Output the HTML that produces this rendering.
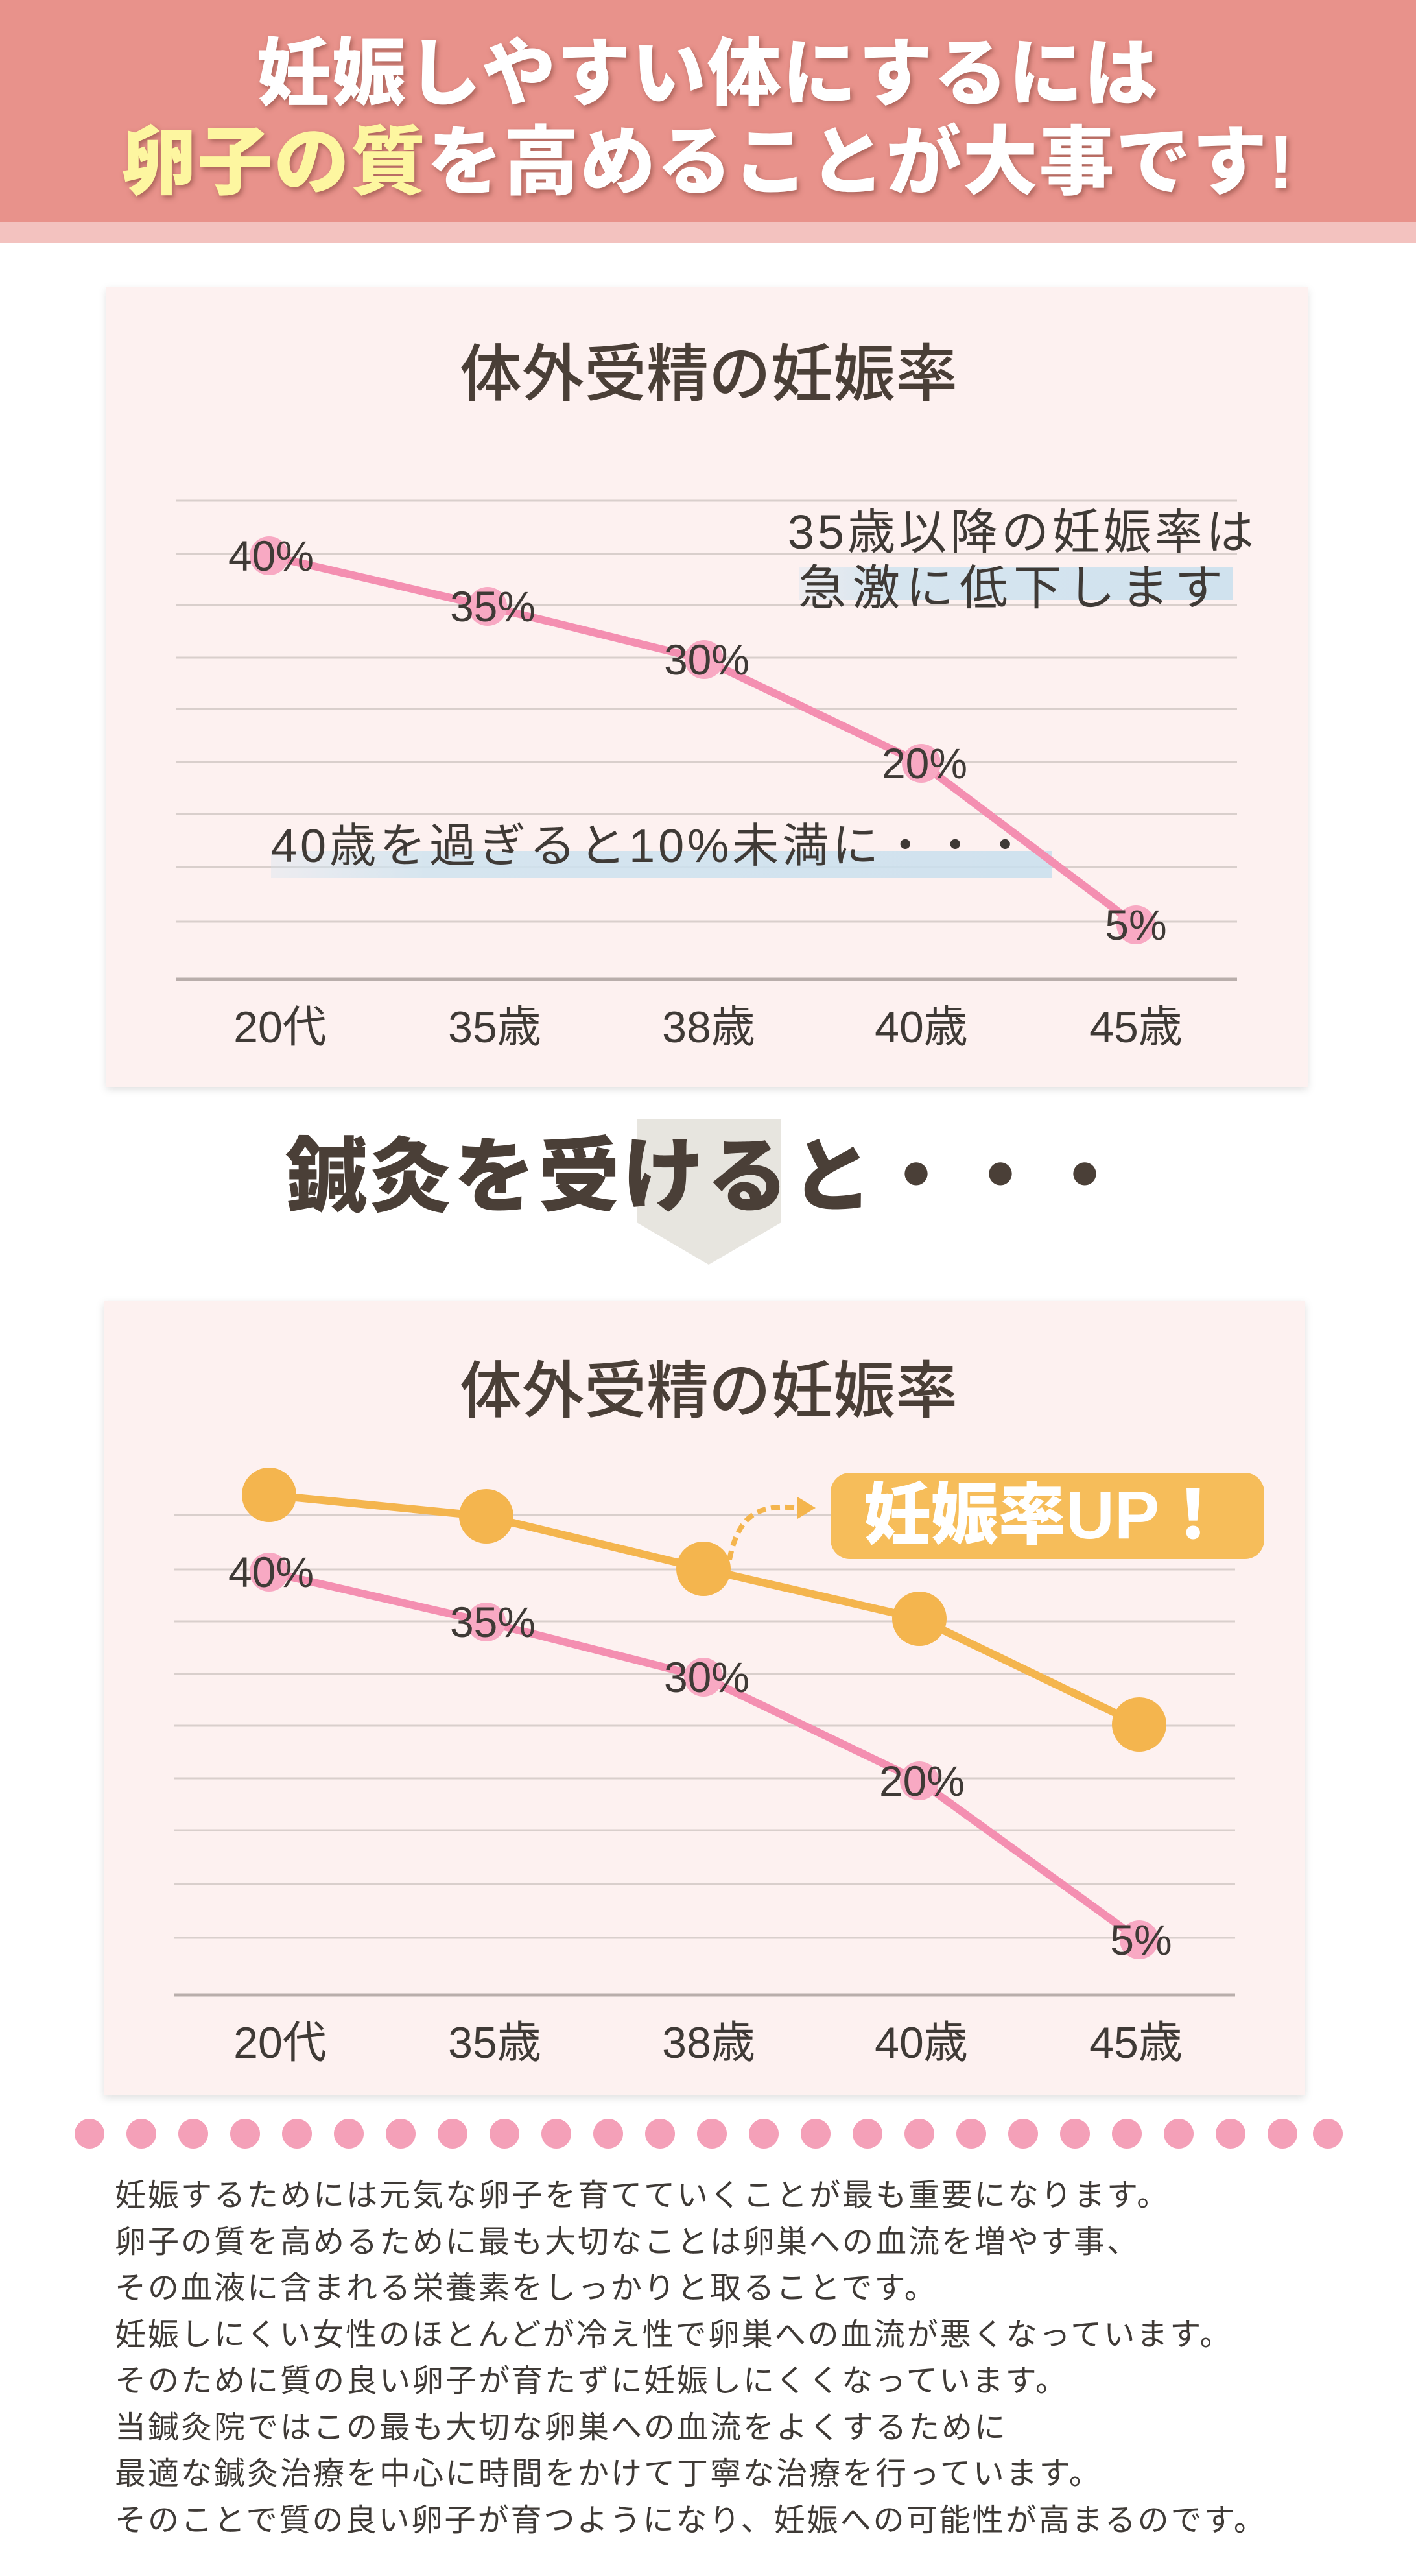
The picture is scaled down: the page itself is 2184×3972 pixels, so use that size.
<!DOCTYPE html>
<html><head><meta charset="utf-8"><style>
html,body{margin:0;padding:0;background:#fff;}
body{width:2184px;height:3972px;position:relative;overflow:hidden;font-family:"Liberation Sans","Noto Sans CJK JP",sans-serif;}
.hdr{position:absolute;left:0;top:0;width:2184px;height:342px;background:#e8928b;}
.hdr2{position:absolute;left:0;top:342px;width:2184px;height:32px;background:#f3c2bf;}
.t{position:absolute;left:0;width:2184px;text-align:center;font-weight:900;font-size:114px;color:#fff;letter-spacing:2px;text-shadow:3px 4px 8px rgba(120,60,50,.55);line-height:1;}
.y{color:#fdf6a0;}
.para{position:absolute;left:177px;top:3350px;font-size:48px;line-height:71.5px;color:#3f3a36;letter-spacing:3px;white-space:nowrap;}
</style></head><body>
<div class="hdr"></div><div class="hdr2"></div>
<div class="t" style="top:58px;">妊娠しやすい体にするには</div>
<div class="t" style="top:192px;font-size:116px;"><span class="y">卵子の質</span>を高めることが大事です!</div>
<svg width="2184" height="3972" style="position:absolute;left:0;top:0" xmlns="http://www.w3.org/2000/svg" font-family="Liberation Sans, Noto Sans CJK JP, sans-serif">
<defs><filter id="sh" x="-5%" y="-5%" width="110%" height="110%"><feDropShadow dx="0" dy="4" stdDeviation="6" flood-color="#000" flood-opacity="0.12"/></filter>
<linearGradient id="bl" x1="0" x2="1" y1="0" y2="0"><stop offset="0" stop-color="#cfe3ef" stop-opacity="0.4"/><stop offset="0.2" stop-color="#cfe3ef"/><stop offset="1" stop-color="#c8dfee"/></linearGradient></defs>
<!-- panel 1 -->
<rect x="164" y="443" width="1853" height="1233" fill="#fdf1f0" filter="url(#sh)"/>
<text x="1093" y="610" font-size="96" text-anchor="middle" fill="#4a3f37" font-weight="500">体外受精の妊娠率</text>
<g stroke="#d9cfcc" stroke-width="3">
<line x1="272" y1="772" x2="1908" y2="772"/><line x1="272" y1="854" x2="1908" y2="854"/><line x1="272" y1="933" x2="1908" y2="933"/><line x1="272" y1="1014" x2="1908" y2="1014"/><line x1="272" y1="1093" x2="1908" y2="1093"/><line x1="272" y1="1175" x2="1908" y2="1175"/><line x1="272" y1="1255" x2="1908" y2="1255"/><line x1="272" y1="1337" x2="1908" y2="1337"/><line x1="272" y1="1421" x2="1908" y2="1421"/>
</g>
<line x1="272" y1="1510" x2="1908" y2="1510" stroke="#b9aeab" stroke-width="5"/>
<rect x="1233" y="875" width="668" height="50" fill="url(#bl)" opacity="0.85"/>
<rect x="418" y="1312" width="1204" height="42" fill="url(#bl)" opacity="0.85"/>
<polyline points="415,857 752,935 1086,1017 1421,1177 1752,1426" fill="none" stroke="#f48fb1" stroke-width="12"/>
<g fill="#f8a9c3"><circle cx="415" cy="857" r="30"/><circle cx="752" cy="935" r="30"/><circle cx="1086" cy="1017" r="30"/><circle cx="1421" cy="1177" r="30"/><circle cx="1752" cy="1426" r="30"/></g>
<g font-size="66" fill="#3f3a36" text-anchor="middle">
<text x="418" y="880">40%</text><text x="760" y="958">35%</text><text x="1090" y="1040">30%</text><text x="1426" y="1200">20%</text><text x="1752" y="1449">5%</text>
</g>
<text x="1939" y="846" font-size="74" fill="#3f3a36" text-anchor="end" letter-spacing="5">35歳以降の妊娠率は</text>
<text x="1895" y="932" font-size="74" fill="#3f3a36" text-anchor="end" letter-spacing="9">急激に低下します</text>
<text x="418" y="1329" font-size="72" fill="#3f3a36" letter-spacing="5">40歳を過ぎると10%未満に・・・</text>
<g font-size="68" fill="#3f3a36" text-anchor="middle">
<text x="432" y="1607">20代</text><text x="763" y="1607">35歳</text><text x="1093" y="1607">38歳</text><text x="1421" y="1607">40歳</text><text x="1752" y="1607">45歳</text>
</g>
<!-- chevron -->
<polygon points="982,1725 1205,1725 1205,1885 1093,1950 982,1885" fill="#e7e5df"/>
<text x="1090" y="1858" font-size="126" font-weight="900" fill="#4a3f37" text-anchor="middle" letter-spacing="4">鍼灸を受けると・・・</text>
<!-- panel 2 -->
<rect x="160" y="2006" width="1853" height="1225" fill="#fdf1f0" filter="url(#sh)"/>
<text x="1093" y="2178" font-size="96" text-anchor="middle" fill="#4a3f37" font-weight="500">体外受精の妊娠率</text>
<g stroke="#d9cfcc" stroke-width="3">
<line x1="268" y1="2336" x2="1905" y2="2336"/><line x1="268" y1="2420" x2="1905" y2="2420"/><line x1="268" y1="2500" x2="1905" y2="2500"/><line x1="268" y1="2581" x2="1905" y2="2581"/><line x1="268" y1="2661" x2="1905" y2="2661"/><line x1="268" y1="2742" x2="1905" y2="2742"/><line x1="268" y1="2822" x2="1905" y2="2822"/><line x1="268" y1="2905" x2="1905" y2="2905"/><line x1="268" y1="2988" x2="1905" y2="2988"/>
</g>
<line x1="268" y1="3076" x2="1905" y2="3076" stroke="#b9aeab" stroke-width="5"/>
<polyline points="415,2424 750,2501 1085,2586 1418,2746 1757,2991" fill="none" stroke="#f48fb1" stroke-width="12"/>
<g fill="#f8a9c3"><circle cx="415" cy="2424" r="30"/><circle cx="750" cy="2501" r="30"/><circle cx="1085" cy="2586" r="30"/><circle cx="1418" cy="2746" r="30"/><circle cx="1757" cy="2991" r="30"/></g>
<g font-size="66" fill="#3f3a36" text-anchor="middle">
<text x="418" y="2447">40%</text><text x="760" y="2524">35%</text><text x="1090" y="2609">30%</text><text x="1422" y="2769">20%</text><text x="1760" y="3014">5%</text>
</g>
<polyline points="415,2305 750,2338 1085,2419 1418,2496 1757,2659" fill="none" stroke="#f4b54e" stroke-width="12"/>
<g fill="#f4b54e"><circle cx="415" cy="2305" r="42"/><circle cx="750" cy="2338" r="42"/><circle cx="1085" cy="2419" r="42"/><circle cx="1418" cy="2496" r="42"/><circle cx="1757" cy="2659" r="42"/></g>
<path d="M1125,2405 C1140,2330 1175,2320 1230,2325" fill="none" stroke="#f4b54e" stroke-width="8" stroke-dasharray="14,8"/>
<polygon points="1230,2308 1258,2325 1230,2342" fill="#f4b54e"/>
<rect x="1281" y="2271" width="669" height="133" rx="30" fill="#f6bd5a"/>
<text x="1612" y="2372" font-size="104" font-weight="900" fill="#fff" text-anchor="middle">妊娠率UP！</text>
<g font-size="68" fill="#3f3a36" text-anchor="middle">
<text x="432" y="3173">20代</text><text x="763" y="3173">35歳</text><text x="1093" y="3173">38歳</text><text x="1421" y="3173">40歳</text><text x="1752" y="3173">45歳</text>
</g>
<!-- dots -->
<g fill="#f4a0b8">
<circle cx="138" cy="3290" r="23"/><circle cx="218" cy="3290" r="23"/><circle cx="298" cy="3290" r="23"/><circle cx="378" cy="3290" r="23"/><circle cx="458" cy="3290" r="23"/><circle cx="538" cy="3290" r="23"/><circle cx="618" cy="3290" r="23"/><circle cx="698" cy="3290" r="23"/><circle cx="778" cy="3290" r="23"/><circle cx="858" cy="3290" r="23"/><circle cx="938" cy="3290" r="23"/><circle cx="1018" cy="3290" r="23"/><circle cx="1098" cy="3290" r="23"/><circle cx="1178" cy="3290" r="23"/><circle cx="1258" cy="3290" r="23"/><circle cx="1338" cy="3290" r="23"/><circle cx="1418" cy="3290" r="23"/><circle cx="1498" cy="3290" r="23"/><circle cx="1578" cy="3290" r="23"/><circle cx="1658" cy="3290" r="23"/><circle cx="1738" cy="3290" r="23"/><circle cx="1818" cy="3290" r="23"/><circle cx="1898" cy="3290" r="23"/><circle cx="1978" cy="3290" r="23"/><circle cx="2048" cy="3290" r="23"/>
</g>
</svg>
<div class="para">妊娠するためには元気な卵子を育てていくことが最も重要になります。<br>卵子の質を高めるために最も大切なことは卵巣への血流を増やす事、<br>その血液に含まれる栄養素をしっかりと取ることです。<br>妊娠しにくい女性のほとんどが冷え性で卵巣への血流が悪くなっています。<br>そのために質の良い卵子が育たずに妊娠しにくくなっています。<br>当鍼灸院ではこの最も大切な卵巣への血流をよくするために<br>最適な鍼灸治療を中心に時間をかけて丁寧な治療を行っています。<br>そのことで質の良い卵子が育つようになり、妊娠への可能性が高まるのです。</div>
</body></html>
